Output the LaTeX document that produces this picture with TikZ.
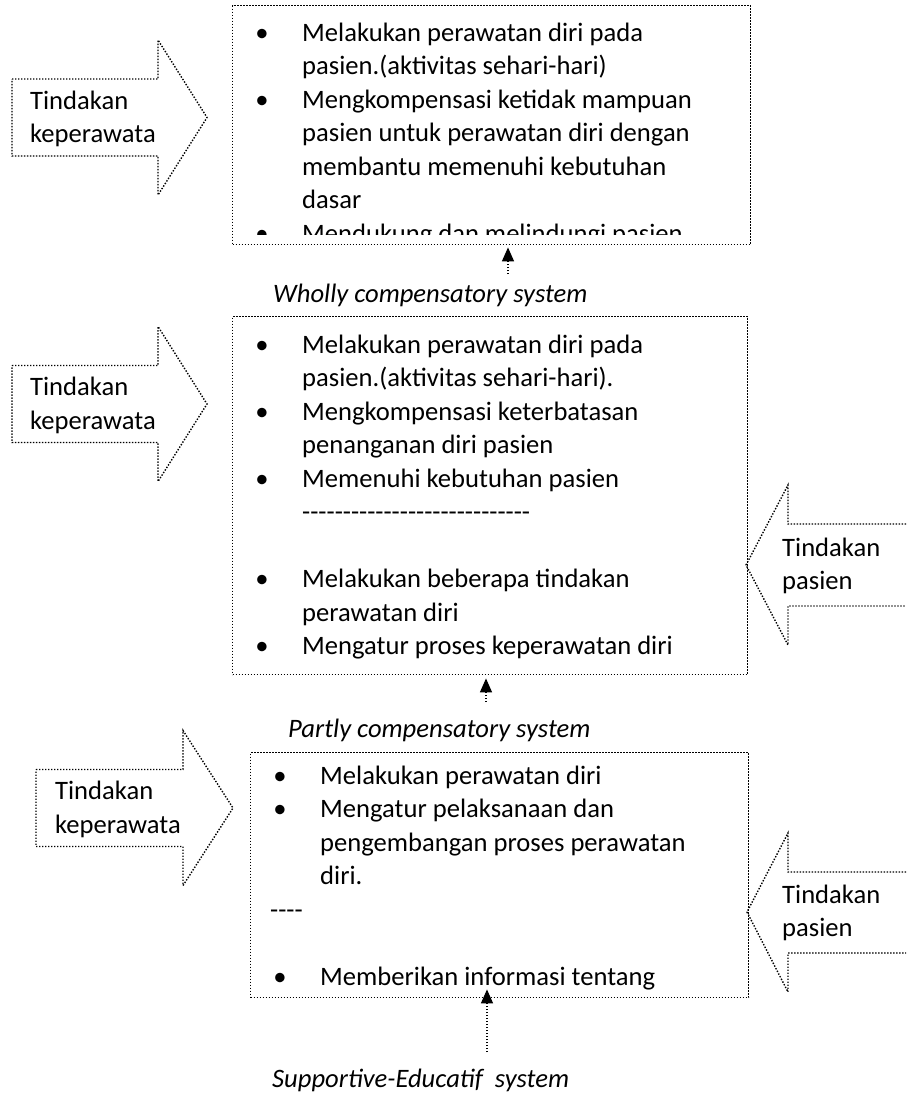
\documentclass[tikz,border=0pt]{standalone}
\usepackage{fontspec}
\setmainfont{Carlito}
\newfontfamily\dashfont{Carlito}
\usetikzlibrary{arrows.meta}

\tikzset{
  dotline/.style={line width=1.4pt, dash pattern=on 1.4pt off 1.6pt, black},
  panel/.style={dotline, draw, rectangle, inner sep=0pt, anchor=north west},
  txt/.style={inner sep=0pt, anchor=base west, font=\fontsize{26.6pt}{33.5pt}\selectfont},
  bul/.style={txt, anchor=base},
  syslabel/.style={txt, font=\fontsize{26.6pt}{33.5pt}\selectfont\itshape},
  feed/.style={dotline, -{Triangle[length=14pt,width=12pt]}},
}

% one line of text, and one bullet mark
\newcommand\pline[4]{\node[txt] (#1) at (#2,#3) {#4};}
\newcommand\pdot[3]{\node[bul] (#1) at (#2,#3) {\textbullet};}

\begin{document}
\begin{tikzpicture}[x=1pt,y=-1pt]
\useasboundingbox (0,0) rectangle (906,1095);

% ---------- panels ----------
\node[panel, minimum width=518pt, minimum height=239pt] (box1) at (232,5) {};
\node[panel, minimum width=515pt, minimum height=358pt] (box2) at (232,316) {};
\node[panel, minimum width=498pt, minimum height=245pt] (box3) at (250,752) {};

% ---------- wholly compensatory (last line runs out of the frame) ----------
\begin{scope}
  \clip (232,5) rectangle (750,234);
  \pdot{w1d}{262}{41}
  \pline{w1}{302}{41}{Melakukan perawatan diri pada}
  \pline{w2}{302}{74.5}{pasien.(aktivitas sehari-hari)}
  \pdot{w3d}{262}{108}
  \pline{w3}{302}{108}{Mengkompensasi ketidak mampuan}
  \pline{w4}{302}{141.5}{pasien untuk perawatan diri dengan}
  \pline{w5}{302}{175}{membantu memenuhi kebutuhan}
  \pline{w6}{302}{208.5}{dasar}
  \pdot{w7d}{262}{242}
  \pline{w7}{302}{242}{Mendukung dan melindungi pasien}
\end{scope}

% ---------- partly compensatory ----------
\pdot{p1d}{262}{353}
\pline{p1}{302}{353}{Melakukan perawatan diri pada}
\pline{p2}{302}{386.5}{pasien.(aktivitas sehari-hari).}
\pdot{p3d}{262}{420}
\pline{p3}{302}{420}{Mengkompensasi keterbatasan}
\pline{p4}{302}{453.5}{penanganan diri pasien}
\pdot{p5d}{262}{487}
\pline{p5}{302}{487}{Memenuhi kebutuhan pasien}
\pline{p6}{302}{520.5}{\dashfont ----------------------------}
\pdot{p7d}{262}{587.5}
\pline{p7}{302}{587.5}{Melakukan beberapa tindakan}
\pline{p8}{302}{621}{perawatan diri}
\pdot{p9d}{262}{654.5}
\pline{p9}{302}{654.5}{Mengatur proses keperawatan diri}

% ---------- supportive-educative ----------
\pdot{s1d}{280}{784}
\pline{s1}{320}{784}{Melakukan perawatan diri}
\pdot{s2d}{280}{817.5}
\pline{s2}{320}{817.5}{Mengatur pelaksanaan dan}
\pline{s3}{320}{851}{pengembangan proses perawatan}
\pline{s4}{320}{884.5}{diri.}
\pline{s5}{270}{918}{\dashfont ----}
\pdot{s6d}{280}{985}
\pline{s6}{320}{985}{Memberikan informasi tentang}

% ---------- nurse action arrows (left) ----------
\draw[dotline] (12,79) -- (158,79) -- (158,40) -- (207,117.5) -- (158,195)
  -- (158,156) -- (12,156) -- cycle;
\pline{n1a}{30}{109}{Tindakan}
\pline{n1b}{30}{142.5}{keperawata}

\draw[dotline] (12,365.5) -- (158,365.5) -- (158,326.5) -- (207,404) -- (158,481.5)
  -- (158,442.5) -- (12,442.5) -- cycle;
\pline{n2a}{30}{395.5}{Tindakan}
\pline{n2b}{30}{429}{keperawata}

\draw[dotline] (36,769.5) -- (183,769.5) -- (183,730.5) -- (233,808) -- (183,885.5)
  -- (183,846.5) -- (36,846.5) -- cycle;
\pline{n3a}{55}{799.5}{Tindakan}
\pline{n3b}{55}{833}{keperawata}

% ---------- patient action arrows (right) ----------
\draw[dotline] (906,524) -- (788,524) -- (788,485) -- (746,565) -- (788,645)
  -- (788,606) -- (906,606);
\pline{q1a}{782}{556}{Tindakan}
\pline{q1b}{782}{589.5}{pasien}

\draw[dotline] (906,872) -- (788,872) -- (788,833) -- (747,912) -- (788,992)
  -- (788,953) -- (906,953);
\pline{q2a}{782}{903}{Tindakan}
\pline{q2b}{782}{936.5}{pasien}

% ---------- system labels and their arrows ----------
\node[syslabel] (wholly) at (273,302) {Wholly compensatory system};
\node[syslabel] (partly) at (288,737) {Partly compensatory system};
\node[syslabel] (suppedu) at (272,1087) {Supportive-Educatif~ system};

\coordinate (wfoot) at (508,274);
\coordinate (pfoot) at (486,702);
\coordinate (sfoot) at (487,1052);
\draw[feed, shorten >=2pt] (wfoot) -- (wfoot |- box1.south);
\draw[feed, shorten >=3pt] (pfoot) -- (pfoot |- box2.south);
\draw[feed, shorten >=-9pt] (sfoot) -- (sfoot |- box3.south);

\end{tikzpicture}
\end{document}
